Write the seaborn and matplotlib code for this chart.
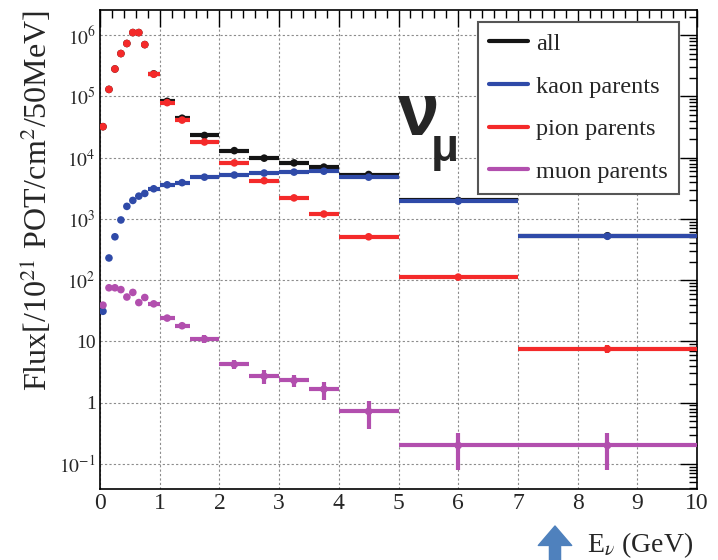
import numpy as np
import pandas as pd
import matplotlib
matplotlib.use("Agg")
import matplotlib.pyplot as plt
from matplotlib.lines import Line2D
from matplotlib.patches import FancyArrowPatch
from matplotlib.transforms import IdentityTransform
from matplotlib.ticker import LogLocator, MultipleLocator, FuncFormatter, NullFormatter
import seaborn as sns

# Energy binning in GeV
bin_edges = [0.0, 0.1, 0.2, 0.3, 0.4, 0.5, 0.6, 0.7, 0.8, 1.0, 1.25, 1.5,
             2.0, 2.5, 3.0, 3.5, 4.0, 5.0, 7.0, 10.0]

# nu_mu flux per 1e21 POT / cm^2 / 50 MeV, split by parent meson
flux_all = [3.2e4, 1.3e5, 2.8e5, 5.0e5, 7.3e5, 1.1e6, 1.1e6, 7.0e5, 2.33e5,
            8.3e4, 4.4e4, 2.3e4, 1.3e4, 9.8e3, 8.2e3, 7.0e3, 5.3e3, 2.0e3, 5.3e2]
flux_kaon = [31, 230, 510, 960, 1.6e3, 2.0e3, 2.35e3, 2.6e3, 3.1e3,
             3.6e3, 3.9e3, 4.8e3, 5.2e3, 5.6e3, 5.8e3, 6.0e3, 4.8e3, 1.95e3, 5.2e2]
flux_pion = [3.2e4, 1.3e5, 2.8e5, 5.0e5, 7.3e5, 1.1e6, 1.1e6, 7.0e5, 2.3e5,
             7.9e4, 4.1e4, 1.8e4, 8.2e3, 4.2e3, 2.2e3, 1.2e3, 5.1e2, 1.12e2, 7.5]
flux_muon = [39, 75, 75, 70, 53, 63, 43, 52, 41,
             24, 18, 10.9, 4.2, 2.7, 2.3, 1.66, 0.72, 0.2, 0.2]

# Statistical uncertainties
err_all = [6e2, 1.5e3, 2e3, 3e3, 4e3, 5e3, 5e3, 4e3, 2e3,
           1e3, 7e2, 5e2, 3e2, 2e2, 1.5e2, 1.2e2, 90, 40, 14]
err_kaon = [3, 10, 15, 25, 35, 40, 45, 50, 55,
            60, 65, 70, 75, 80, 85, 90, 70, 35, 12]
err_pion = [6e2, 1.5e3, 2e3, 3e3, 4e3, 5e3, 5e3, 4e3, 2e3,
            1e3, 7e2, 4e2, 2.5e2, 1.6e2, 1.1e2, 75, 35, 10, 1.1]
err_muon = [1.5, 2.5, 2.5, 2.5, 2.5, 2.5, 2.0, 2.0, 2.0,
            1.5, 1.2, 1.6, 0.7, 0.65, 0.5, 0.55, 0.35, 0.12, 0.12]

series_names = ["all", "kaon parents", "pion parents", "muon parents"]
series_colors = ["#141414", "#2f4aa8", "#f42a2a", "#b24fae"]

edges = np.asarray(bin_edges)
centers = 0.5 * (edges[:-1] + edges[1:])
half_w = 0.5 * np.diff(edges)

frames = []
for name, vals, errs in zip(series_names,
                            [flux_all, flux_kaon, flux_pion, flux_muon],
                            [err_all, err_kaon, err_pion, err_muon]):
    frames.append(pd.DataFrame({"E": centers, "dE": half_w, "flux": vals,
                                "err": errs, "parent": name}))
df = pd.concat(frames, ignore_index=True)

sns.set_theme(style="white")
plt.rcParams["font.family"] = ["Liberation Serif", "DejaVu Serif"]
plt.rcParams["mathtext.fontset"] = "stix"

fig = plt.figure(figsize=(7.18, 5.6), dpi=100)
ax = fig.add_axes([100 / 718, 1 - 489 / 560, 597 / 718, 479 / 560])

for i, (name, color) in enumerate(zip(series_names, series_colors)):
    sub = df[df["parent"] == name]
    ax.errorbar(sub["E"], sub["flux"], xerr=sub["dE"], yerr=sub["err"],
                fmt="none", ecolor=color, elinewidth=3.0, capsize=0,
                zorder=3 + i)
    sns.scatterplot(data=sub, x="E", y="flux", color=color, s=30,
                    edgecolor="none", legend=False, ax=ax, zorder=3.5 + i)

ax.set_yscale("log")
ax.set_xlim(0, 10)
ax.set_ylim(10 ** -1.41, 10 ** 6.41)

ax.xaxis.set_major_locator(MultipleLocator(1))
ax.xaxis.set_minor_locator(MultipleLocator(0.2))
ax.yaxis.set_major_locator(LogLocator(base=10, numticks=20))
ax.yaxis.set_minor_locator(LogLocator(base=10, subs=np.arange(2, 10), numticks=20))
ax.yaxis.set_minor_formatter(NullFormatter())


def decade_label(v, pos):
    n = int(round(np.log10(v)))
    if n == 0:
        return "1"
    if n == 1:
        return "10"
    return r"$10^{%d}$" % n


ax.yaxis.set_major_formatter(FuncFormatter(decade_label))
ax.tick_params(which="both", direction="in", top=True, right=True,
               color="black", width=1.0)
ax.tick_params(which="major", length=12)
ax.tick_params(which="minor", length=6)
ax.tick_params(axis="x", labelsize=17, pad=3)
ax.tick_params(axis="y", labelsize=14, pad=3)

ax.grid(True, which="major", color="#8c8c8c", linestyle=(0, (2, 2)), linewidth=0.8)
ax.set_axisbelow(True)
for sp in ax.spines.values():
    sp.set_color("black")
    sp.set_linewidth(1.2)

ax.set_xlabel("")
ax.set_ylabel("")

# vertical axis title
fig.text(36 / 718, 1 - 201 / 560, r"Flux[/10$^{21}$ POT/cm$^{2}$/50MeV]",
         fontsize=23, rotation=90, ha="center", va="center")

handles = [Line2D([0], [0], color=c, lw=3.0) for c in series_colors]
leg = ax.legend(handles, series_names, loc="upper left",
                bbox_to_anchor=(478 / 718, 1 - 22 / 560),
                bbox_transform=fig.transFigure, borderaxespad=0,
                fontsize=17.5, frameon=True, fancybox=False, framealpha=1.0,
                edgecolor="#555555", handlelength=1.6, handletextpad=0.35,
                labelspacing=0.85, borderpad=0.45)
leg.get_frame().set_linewidth(1.5)
leg.set_zorder(20)

# neutrino flavour tag
fig.text(397 / 718, 1 - 135 / 560, "ν", fontsize=54, fontweight="bold",
         family=["Liberation Sans", "DejaVu Sans"], ha="left", va="baseline")
fig.text(431 / 718, 1 - 161 / 560, "μ", fontsize=33, fontweight="bold",
         family=["Liberation Sans", "DejaVu Sans"], ha="left", va="baseline")

# axis title and pointer below the energy axis
fig.text(587 / 718, 1 - 552 / 560, r"E$_{\nu}$ (GeV)", fontsize=20,
         ha="left", va="baseline")
pointer = FancyArrowPatch((555, -4), (555, 34), transform=IdentityTransform(),
                          arrowstyle="simple,head_length=0.7,head_width=1.2,tail_width=0.4",
                          mutation_scale=20, color="#4f81bd",
                          shrinkA=0, shrinkB=0)
fig.add_artist(pointer)

fig.savefig("out.png", dpi=100)
